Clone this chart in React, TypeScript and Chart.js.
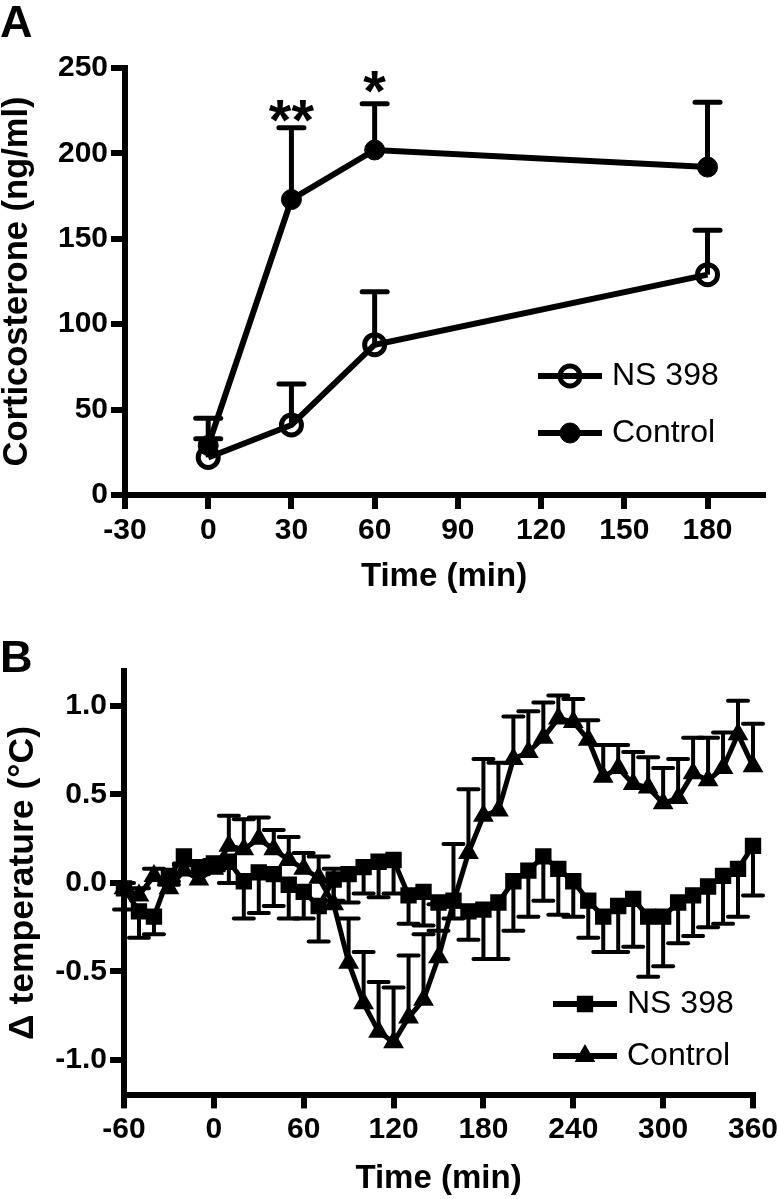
import React, { useEffect, useRef } from 'react';
import { Chart, registerables } from 'chart.js';

Chart.register(...registerables);

const FONT = "'Liberation Sans', Arial, Helvetica, sans-serif";

// ---------------- Panel A data ----------------
const seriesLabels = ['NS 398', 'Control'];
const timesA = [0, 30, 60, 180];
const ns398A = [22, 41, 88, 129];
const ns398SemA = [11, 24, 31, 26];
const controlA = [29, 173, 202, 192];
const controlSemA = [16, 42, 27, 38];
const xTicksA = [-30, 0, 30, 60, 90, 120, 150, 180];
const xTickLabelsA = ['-30', '0', '30', '60', '90', '120', '150', '180'];
const yTicksA = [0, 50, 100, 150, 200, 250];
const yTickLabelsA = ['0', '50', '100', '150', '200', '250'];
const sigTimesA = [30, 60];
const sigLevelsA = [227, 244];
const sigLabelsA = ['**', '*'];

// ---------------- Panel B data ----------------
const timesB = [-60, -50, -40, -30, -20, -10, 0, 10, 20, 30, 40, 50, 60, 70, 80, 90, 100, 110, 120, 130, 140, 150, 160, 170, 180, 190, 200, 210, 220, 230, 240, 250, 260, 270, 280, 290, 300, 310, 320, 330, 340, 350, 360];
const ns398B = [-0.03, -0.16, -0.19, 0.04, 0.15, 0.09, 0.11, 0.12, 0.01, 0.06, 0.05, -0.01, -0.05, -0.13,
  0.02, 0.05, 0.09, 0.12, 0.13, -0.07, -0.05, -0.11, -0.10, -0.16, -0.15, -0.11, 0.01,
  0.07, 0.15, 0.08, 0.01, -0.10, -0.19, -0.13, -0.09, -0.19, -0.19, -0.11, -0.07, -0.02, 0.04, 0.08, 0.21];
const ns398SemB = [0.12, 0.15, 0.10, 0.05, 0.05, 0.04, 0.04, 0.12, 0.21, 0.23, 0.18, 0.19, 0.15, 0.2,
  0.12, 0.16, 0.15, 0.2, 0.19, 0.16, 0.19, 0.16, 0.1, 0.16, 0.28, 0.32, 0.28,
  0.26, 0.25, 0.26, 0.2, 0.21, 0.2, 0.26, 0.27, 0.34, 0.28, 0.23, 0.23, 0.23, 0.27, 0.27, 0.28];
const controlB = [-0.03, -0.07, 0.04, -0.03, 0.07, 0.02, 0.08, 0.21, 0.19, 0.25, 0.19, 0.13, 0.08, 0.03,
  -0.12, -0.45, -0.68, -0.84, -0.90, -0.76, -0.66, -0.42, -0.11, 0.17, 0.38, 0.41, 0.70,
  0.74, 0.82, 0.93, 0.91, 0.81, 0.60, 0.65, 0.56, 0.54, 0.45, 0.48, 0.62, 0.58, 0.65, 0.84, 0.66];
const controlSemB = [0.03, 0.04, 0.04, 0.04, 0.04, 0.04, 0.05, 0.17, 0.17, 0.12, 0.11, 0.13, 0.09, 0.12,
  0.2, 0.25, 0.29, 0.28, 0.31, 0.35, 0.37, 0.3, 0.33, 0.36, 0.32, 0.27, 0.24,
  0.23, 0.2, 0.13, 0.13, 0.11, 0.18, 0.13, 0.18, 0.17, 0.2, 0.22, 0.2, 0.24, 0.2, 0.19, 0.24];
const xTicksB = [-60, 0, 60, 120, 180, 240, 300, 360];
const xTickLabelsB = ['-60', '0', '60', '120', '180', '240', '300', '360'];
const yTicksB = [-1, -0.5, 0, 0.5, 1];
const yTickLabelsB = ['-1.0', '-0.5', '0.0', '0.5', '1.0'];

// ---------------- helpers / plugins ----------------
function drawMarker(ctx: any, style: string, x: number, y: number, r: number, fill: string, stroke: string, bw: number) {
  ctx.beginPath();
  if (style === 'rect') {
    const s = r * Math.SQRT1_2;
    ctx.rect(x - s, y - s, 2 * s, 2 * s);
  } else if (style === 'triangle') {
    let rad = 0;
    ctx.moveTo(x + Math.sin(rad) * r, y - Math.cos(rad) * r);
    rad += (2 * Math.PI) / 3;
    ctx.lineTo(x + Math.sin(rad) * r, y - Math.cos(rad) * r);
    rad += (2 * Math.PI) / 3;
    ctx.lineTo(x + Math.sin(rad) * r, y - Math.cos(rad) * r);
    ctx.closePath();
  } else {
    ctx.arc(x, y, r, 0, Math.PI * 2);
  }
  if (fill && fill !== 'rgba(0,0,0,0)') {
    ctx.fillStyle = fill;
    ctx.fill();
  }
  if (bw > 0) {
    ctx.lineWidth = bw;
    ctx.strokeStyle = stroke;
    ctx.stroke();
  }
}

const errorBarPlugin = {
  id: 'errorBars',
  beforeDatasetsDraw(chart: any, _args: any, opts: any) {
    const ctx = chart.ctx;
    const xs = chart.scales.x;
    const ys = chart.scales.y;
    ctx.save();
    ctx.strokeStyle = '#000';
    ctx.lineWidth = opts.lineWidth;
    chart.data.datasets.forEach((ds: any) => {
      const errs = ds.errorBars;
      if (!errs) return;
      ds.data.forEach((p: any, i: number) => {
        const e = errs[i];
        if (!e) return;
        const x = xs.getPixelForValue(p.x);
        const y0 = ys.getPixelForValue(p.y);
        const y1 = ys.getPixelForValue(p.y + ds.errorDir * e);
        ctx.lineCap = 'butt';
        ctx.beginPath();
        ctx.moveTo(x, y0);
        ctx.lineTo(x, y1);
        ctx.stroke();
        ctx.lineCap = 'round';
        ctx.beginPath();
        ctx.moveTo(x - opts.capWidth / 2, y1);
        ctx.lineTo(x + opts.capWidth / 2, y1);
        ctx.stroke();
      });
    });
    ctx.restore();
  },
};

const legendPlugin = {
  id: 'insetLegend',
  afterDatasetsDraw(chart: any, _args: any, opts: any) {
    const ctx = chart.ctx;
    ctx.save();
    chart.data.datasets.forEach((ds: any, i: number) => {
      const y = opts.rows[i];
      ctx.strokeStyle = '#000';
      ctx.lineWidth = opts.lineWidth;
      ctx.lineCap = 'butt';
      ctx.beginPath();
      ctx.moveTo(opts.x0, y);
      ctx.lineTo(opts.x1, y);
      ctx.stroke();
      drawMarker(ctx, ds.pointStyle, (opts.x0 + opts.x1) / 2, y, ds.pointRadius, ds.pointBackgroundColor, ds.pointBorderColor, ds.pointBorderWidth);
      ctx.fillStyle = '#000';
      ctx.font = `${opts.fontSize}px ${FONT}`;
      ctx.textAlign = 'left';
      ctx.textBaseline = 'middle';
      ctx.fillText(ds.label, opts.textX, y);
    });
    ctx.restore();
  },
};

const sigPlugin = {
  id: 'sigMarks',
  afterDatasetsDraw(chart: any, _args: any, opts: any) {
    if (!opts.labels) return;
    const ctx = chart.ctx;
    ctx.save();
    ctx.fillStyle = '#000';
    ctx.font = `bold ${opts.fontSize}px ${FONT}`;
    ctx.textAlign = 'center';
    ctx.textBaseline = 'alphabetic';
    for (let i = 0; i < opts.labels.length; i++) {
      const x = chart.scales.x.getPixelForValue(opts.xs[i]);
      const y = chart.scales.y.getPixelForValue(opts.ys[i]);
      ctx.fillText(opts.labels[i], x, y + 0.57 * opts.fontSize);
    }
    ctx.restore();
  },
};

const panelLabelPlugin = {
  id: 'panelLabel',
  afterDraw(chart: any, _args: any, opts: any) {
    const ctx = chart.ctx;
    ctx.save();
    ctx.fillStyle = '#000';
    ctx.font = `bold ${opts.fontSize}px ${FONT}`;
    ctx.textAlign = 'left';
    ctx.textBaseline = 'alphabetic';
    ctx.fillText(opts.text, opts.x, opts.y);
    ctx.restore();
  },
};

function xAxis(min: number, max: number, ticks: number[], labels: string[], height: number, tickLen: number, tickPad: number, title: string, titlePadBottom: number) {
  return {
    type: 'linear',
    min,
    max,
    afterBuildTicks: (s: any) => {
      s.ticks = ticks.map((v) => ({ value: v }));
    },
    afterFit: (s: any) => {
      s.height = height;
      s.paddingLeft = 0;
      s.paddingRight = 0;
    },
    ticks: {
      color: '#000',
      autoSkip: false,
      maxRotation: 0,
      minRotation: 0,
      padding: tickPad,
      font: { family: FONT, size: 30, weight: 'bold' },
      callback: (_v: any, i: number) => labels[i],
    },
    grid: { drawOnChartArea: false, drawTicks: true, tickLength: tickLen, tickWidth: 6, tickColor: '#000', color: '#000', lineWidth: 6 },
    border: { display: true, color: '#000', width: 6 },
    title: {
      display: true,
      text: title,
      color: '#000',
      font: { family: FONT, size: 33, weight: 'bold', lineHeight: 1.2 },
      padding: { top: 0, bottom: titlePadBottom },
    },
  };
}

function yAxis(min: number, max: number, ticks: number[], labels: string[], width: number, fontSize: number, title: string, titleSize: number, titlePadTop: number) {
  return {
    type: 'linear',
    min,
    max,
    afterBuildTicks: (s: any) => {
      s.ticks = ticks.map((v) => ({ value: v }));
    },
    afterFit: (s: any) => {
      s.width = width;
      s.paddingTop = 0;
      s.paddingBottom = 0;
    },
    ticks: {
      color: '#000',
      autoSkip: false,
      padding: 3,
      font: { family: FONT, size: fontSize, weight: 'bold' },
      callback: (_v: any, i: number) => labels[i],
    },
    grid: { drawOnChartArea: false, drawTicks: true, tickLength: 14, tickWidth: 6, tickColor: '#000', color: '#000', lineWidth: 6 },
    border: { display: true, color: '#000', width: 6 },
    title: {
      display: true,
      text: title,
      color: '#000',
      font: { family: FONT, size: titleSize, weight: 'bold', lineHeight: 1 },
      padding: { top: titlePadTop, bottom: 0 },
    },
  };
}

function buildConfigA(): any {
  return {
    type: 'line',
    data: {
      datasets: [
        {
          label: seriesLabels[0],
          data: timesA.map((t, i) => ({ x: t, y: ns398A[i] })),
          errorBars: ns398SemA,
          errorDir: 1,
          borderColor: '#000',
          borderWidth: 6,
          tension: 0,
          pointStyle: 'circle',
          pointRadius: 10,
          pointBorderWidth: 5,
          pointBackgroundColor: 'rgba(0,0,0,0)',
          pointBorderColor: '#000',
          clip: false,
        },
        {
          label: seriesLabels[1],
          data: timesA.map((t, i) => ({ x: t, y: controlA[i] })),
          errorBars: controlSemA,
          errorDir: 1,
          borderColor: '#000',
          borderWidth: 6,
          tension: 0,
          pointStyle: 'circle',
          pointRadius: 10,
          pointBorderWidth: 1,
          pointBackgroundColor: '#000',
          pointBorderColor: '#000',
          clip: false,
        },
      ],
    },
    options: {
      responsive: false,
      animation: false,
      events: [],
      layout: { padding: { top: 68, right: 13, bottom: 0, left: 0 } },
      plugins: {
        legend: { display: false },
        tooltip: { enabled: false },
        errorBars: { lineWidth: 5, capWidth: 25 },
        insetLegend: { x0: 538, x1: 602, textX: 612, rows: [376, 433], lineWidth: 6, fontSize: 32 },
        sigMarks: { xs: sigTimesA, ys: sigLevelsA, labels: sigLabelsA, fontSize: 58 },
        panelLabel: { text: 'A', x: 0, y: 37, fontSize: 45 },
      },
      scales: {
        x: xAxis(-30, 200, xTicksA, xTickLabelsA, 105, 14, 4, 'Time (min)', 3),
        y: yAxis(0, 250, yTicksA, yTickLabelsA, 125, 30, 'Corticosterone (ng/ml)', 34.5, 0),
      },
    },
    plugins: [errorBarPlugin, legendPlugin, sigPlugin, panelLabelPlugin],
  };
}

function buildConfigB(): any {
  return {
    type: 'line',
    data: {
      datasets: [
        {
          label: seriesLabels[0],
          data: timesB.map((t, i) => ({ x: t, y: ns398B[i] })),
          errorBars: ns398SemB,
          errorDir: -1,
          borderColor: '#000',
          borderWidth: 5,
          tension: 0,
          pointStyle: 'rect',
          pointRadius: 10.5,
          pointBorderWidth: 1.5,
          pointBackgroundColor: '#000',
          pointBorderColor: '#000',
          clip: false,
        },
        {
          label: seriesLabels[1],
          data: timesB.map((t, i) => ({ x: t, y: controlB[i] })),
          errorBars: controlSemB,
          errorDir: 1,
          borderColor: '#000',
          borderWidth: 5,
          tension: 0,
          pointStyle: 'triangle',
          pointRadius: 10.5,
          pointBorderWidth: 1.5,
          pointBackgroundColor: '#000',
          pointBorderColor: '#000',
          clip: false,
        },
      ],
    },
    options: {
      responsive: false,
      animation: false,
      events: [],
      layout: { padding: { top: 70.6, right: 25, bottom: 0, left: 0 } },
      plugins: {
        legend: { display: false },
        tooltip: { enabled: false },
        errorBars: { lineWidth: 4, capWidth: 20 },
        insetLegend: { x0: 553, x1: 617, textX: 627, rows: [404, 456], lineWidth: 6, fontSize: 32 },
        sigMarks: {},
        panelLabel: { text: 'B', x: 0, y: 72, fontSize: 45 },
      },
      scales: {
        x: xAxis(-60, 360, xTicksB, xTickLabelsB, 103.6, 13, 3, 'Time (min)', 0),
        y: yAxis(-1.2, 1.2, yTicksB, yTickLabelsB, 124, 30, 'Δ temperature (°C)', 35.5, 5),
      },
    },
    plugins: [errorBarPlugin, legendPlugin, sigPlugin, panelLabelPlugin],
  };
}

function ChartCanvas({ build, top, width, height }: { build: () => any; top: number; width: number; height: number }) {
  const ref = useRef<HTMLCanvasElement | null>(null);
  useEffect(() => {
    if (!ref.current) return;
    const chart = new Chart(ref.current, build());
    return () => chart.destroy();
  }, [build]);
  return (
    <canvas
      ref={ref}
      width={width}
      height={height}
      style={{ position: 'absolute', left: 0, top, width, height, display: 'block' }}
    />
  );
}

export default function App() {
  return (
    <div style={{ position: 'absolute', left: 0, top: 0, width: 778, height: 1199, background: '#fff', overflow: 'hidden' }}>
      <ChartCanvas build={buildConfigA} top={0} width={778} height={600} />
      <ChartCanvas build={buildConfigB} top={600} width={778} height={599} />
    </div>
  );
}
